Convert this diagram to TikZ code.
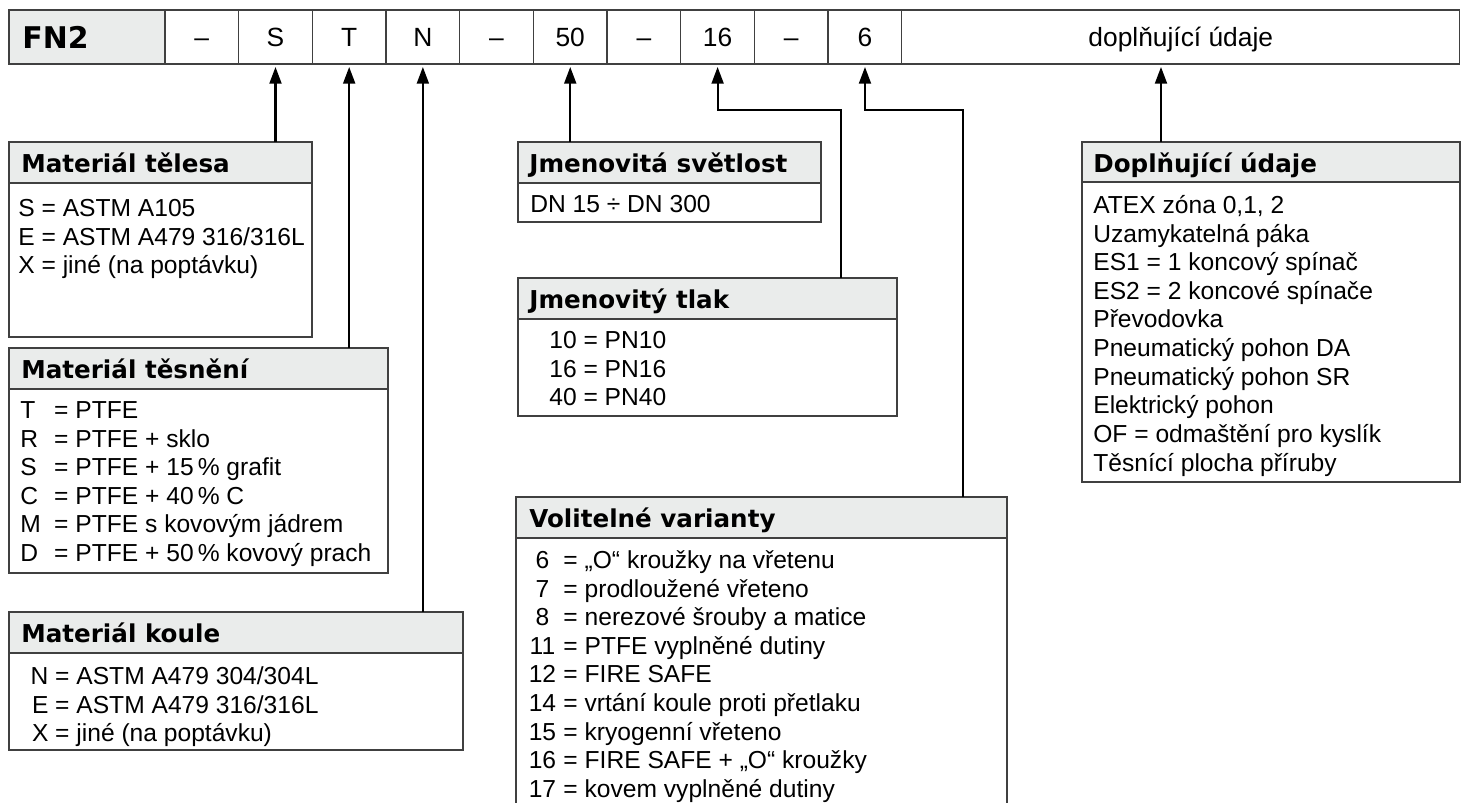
\documentclass[tikz,border=0pt]{standalone}
\usepackage{fontspec}
\setmainfont{Liberation Sans}
\newfontfamily\heavyfont{DejaVu Sans}
\usepackage{xcolor}
\definecolor{head_gray}{RGB}{234,236,235}
\definecolor{frame_gray}{RGB}{64,64,64}
\usetikzlibrary{positioning,fit,arrows.meta}
\newcommand{\valkey}[3]{\makebox[#1][#2]{#3}~=~}

\tikzset{
  frame/.style={draw=frame_gray, line width=0.75pt},
  cell/.style={frame, inner sep=0pt, outer sep=0pt, minimum width=1.474cm, minimum height=1.08cm, font=\fontsize{15}{17}\selectfont, text height=10.7pt, text depth=0pt},
  headbox/.style={frame, fill=head_gray, inner sep=0pt, outer sep=0pt},
  bodybox/.style={frame, inner sep=0pt, outer sep=0pt},
  openbox/.style={inner sep=0pt, outer sep=0pt},
  headtext/.style={anchor=base west, inner sep=0pt, font=\heavyfont\bfseries\fontsize{14}{16}\selectfont},
  bodytext/.style={anchor=north west, inner sep=0pt, align=left, font=\fontsize{14}{16.3}\selectfont},
  link/.style={draw=black, line width=1.2pt, shorten >=1.7pt, -{Triangle[length=9.5pt,width=6.8pt]}}
}

\begin{document}
\begin{tikzpicture}[x=0.02cm, y=-0.02cm]
\useasboundingbox (0,0) rectangle (1465,803);

\node[cell, fill=head_gray, minimum width=3.12cm, anchor=north west] (cFN) at (9,10) {};
\node[anchor=west, inner sep=0pt, text height=12.4pt, text depth=0pt, font=\heavyfont\bfseries\fontsize{17}{20}\selectfont] (tFN) at ([shift={(13,1)}]cFN.west) {FN2};
\node[cell, right=0pt of cFN] (cD1) {–};
\node[cell, right=0pt of cD1] (cS) {S};
\node[cell, right=0pt of cS] (cT) {T};
\node[cell, right=0pt of cT] (cN) {N};
\node[cell, right=0pt of cN] (cD2) {–};
\node[cell, right=0pt of cD2] (c50) {50};
\node[cell, right=0pt of c50] (cD3) {–};
\node[cell, right=0pt of cD3] (c16) {16};
\node[cell, right=0pt of c16] (cD4) {–};
\node[cell, right=0pt of cD4] (c6) {6};
\node[cell, right=0pt of c6, minimum width=11.16cm] (cOpt) {doplňující údaje};

\node[headbox, fit={(9,142) (312,183)}] (telesaH) {};
\node[bodybox, fit={(9,183) (312,337)}] (telesa) {};
\node[headtext] (telesaHt) at ([shift={(12,31)}]telesaH.north west) {Materiál tělesa};
\node[bodytext] (telesaT) at ([shift={(9,13)}]telesa.north west) {\strut S = ASTM A105\\E = ASTM A479 316/316L\\X = jiné (na poptávku)};

\node[headbox, fit={(9,348) (388,389)}] (tesneniH) {};
\node[bodybox, fit={(9,389) (388,573)}] (tesneni) {};
\node[headtext] (tesneniHt) at ([shift={(12,31)}]tesneniH.north west) {Materiál těsnění};
\node[bodytext] (tesneniT) at ([shift={(11,9)}]tesneni.north west) {\strut\valkey{1.1em}{l}{T}PTFE\\\valkey{1.1em}{l}{R}PTFE + sklo\\\valkey{1.1em}{l}{S}PTFE + 15\,\% grafit\\\valkey{1.1em}{l}{C}PTFE + 40\,\% C\\\valkey{1.1em}{l}{M}PTFE s kovovým jádrem\\\valkey{1.1em}{l}{D}PTFE + 50\,\% kovový prach};

\node[headbox, fit={(9,612) (463,653)}] (kouleH) {};
\node[bodybox, fit={(9,653) (463,750)}] (koule) {};
\node[headtext] (kouleHt) at ([shift={(12,31)}]kouleH.north west) {Materiál koule};
\node[bodytext] (kouleT) at ([shift={(12,11)}]koule.north west) {\strut\valkey{1.1em}{r}{N}ASTM A479 304/304L\\\valkey{1.1em}{r}{E}ASTM A479 316/316L\\\valkey{1.1em}{r}{X}jiné (na poptávku)};

\node[headbox, fit={(518,142) (821,183)}] (svetlostH) {};
\node[bodybox, fit={(518,183) (821,222)}] (svetlost) {};
\node[headtext] (svetlostHt) at ([shift={(11,31)}]svetlostH.north west) {Jmenovitá světlost};
\node[bodytext] (svetlostT) at ([shift={(12,9)}]svetlost.north west) {\strut DN 15 ÷ DN 300};

\node[headbox, fit={(518,278) (897,319)}] (tlakH) {};
\node[bodybox, fit={(518,319) (897,416)}] (tlak) {};
\node[headtext] (tlakHt) at ([shift={(11,31)}]tlakH.north west) {Jmenovitý tlak};
\node[bodytext] (tlakT) at ([shift={(31,9)}]tlak.north west) {\strut 10 = PN10\\16 = PN16\\40 = PN40};

\node[headbox, fit={(516,497) (1007,538)}] (volitH) {};
\node[openbox, fit={(516,538) (1007,803)}] (volit) {};
\draw[frame] (volit.north west) -- (volit.south west) (volit.north east) -- (volit.south east);
\node[headtext] (volitHt) at ([shift={(13,31)}]volitH.north west) {Volitelné varianty};
\node[bodytext] (volitT) at ([shift={(12,10)}]volit.north west) {\strut\valkey{1.15em}{c}{6}„O“ kroužky na vřetenu\\\valkey{1.15em}{c}{7}prodloužené vřeteno\\\valkey{1.15em}{c}{8}nerezové šrouby a matice\\\valkey{1.15em}{c}{11}PTFE vyplněné dutiny\\\valkey{1.15em}{c}{12}FIRE SAFE\\\valkey{1.15em}{c}{14}vrtání koule proti přetlaku\\\valkey{1.15em}{c}{15}kryogenní vřeteno\\\valkey{1.15em}{c}{16}FIRE SAFE + „O“ kroužky\\\valkey{1.15em}{c}{17}kovem vyplněné dutiny};

\node[headbox, fit={(1082,142) (1460,182)}] (doplH) {};
\node[bodybox, fit={(1082,182) (1460,482)}] (dopl) {};
\node[headtext] (doplHt) at ([shift={(11,31)}]doplH.north west) {Doplňující údaje};
\node[bodytext] (doplT) at ([shift={(11,11)}]dopl.north west) {\strut ATEX zóna 0,1, 2\\Uzamykatelná páka\\ES1 = 1 koncový spínač\\ES2 = 2 koncové spínače\\Převodovka\\Pneumatický pohon DA\\Pneumatický pohon SR\\Elektrický pohon\\OF = odmaštění pro kyslík\\Těsnící plocha příruby};

\coordinate (k16) at (841,110);
\coordinate (k6) at (963,110);
\coordinate (kOpt) at (1161,110);

\draw[link] (telesaH.north -| cS.south) -- (cS.south);
\draw[link] (tesneniH.north -| cT.south) -- (cT.south);
\draw[link] (kouleH.north -| cN.south) -- (cN.south);
\draw[link] (svetlostH.north -| c50.south) -- (c50.south);
\draw[link] (tlakH.north -| k16) -- (k16) -| (c16.south);
\draw[link] (volitH.north -| k6) -- (k6) -| (c6.south);
\draw[link] (doplH.north -| kOpt) -- (kOpt |- cOpt.south);

\end{tikzpicture}
\end{document}
